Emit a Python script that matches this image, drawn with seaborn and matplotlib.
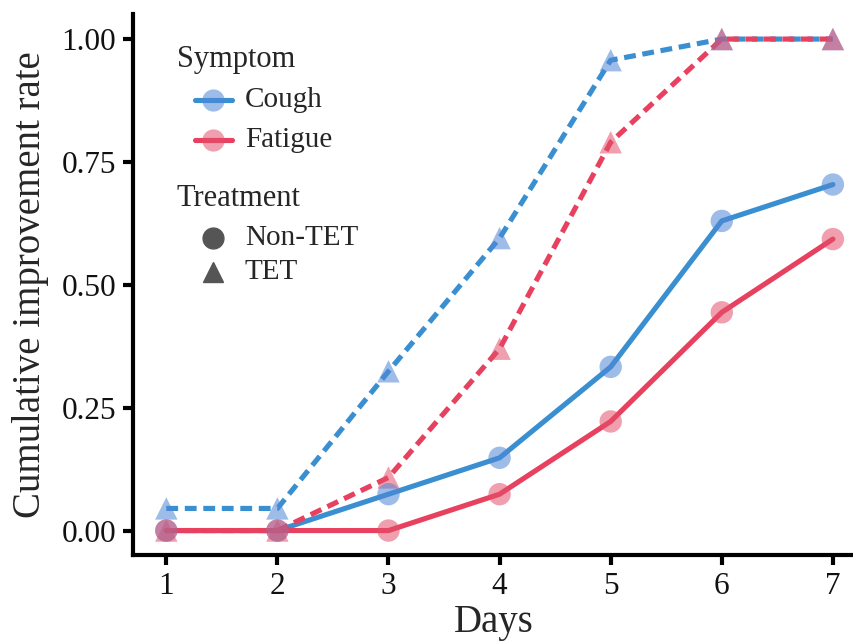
import numpy as np
import pandas as pd
import matplotlib
matplotlib.use("Agg")
import matplotlib.pyplot as plt
from matplotlib.lines import Line2D
import seaborn as sns

# values
days = [1, 2, 3, 4, 5, 6, 7]
cough_tet = [0.045, 0.045, 0.324, 0.595, 0.957, 1.0, 1.0]
fatigue_tet = [0.0, 0.0, 0.108, 0.370, 0.790, 1.0, 1.0]
cough_non = [0.0, 0.0, 0.074, 0.148, 0.333, 0.630, 0.704]
fatigue_non = [0.0, 0.0, 0.0, 0.074, 0.222, 0.444, 0.593]

symptoms = ["Cough", "Fatigue"]
treatments = ["Non-TET", "TET"]
palette = {"Cough": "#3a8fd0", "Fatigue": "#e8405f"}
marker_palette = {"Cough": "#4f86d6", "Fatigue": "#e2506a"}

rows = []
for sym, trt, vals in [("Cough", "TET", cough_tet), ("Fatigue", "TET", fatigue_tet),
                       ("Cough", "Non-TET", cough_non), ("Fatigue", "Non-TET", fatigue_non)]:
    for d, v in zip(days, vals):
        rows.append({"Days": d, "Rate": v, "Symptom": sym, "Treatment": trt})
df = pd.DataFrame(rows)

sns.set_theme(style="ticks")
plt.rcParams["font.family"] = ["Liberation Serif", "DejaVu Serif"]

W, H = 854, 644
fig = plt.figure(figsize=(W / 100, H / 100), dpi=100)
ax = fig.add_axes([0.1557, 0.138, 0.8443, 0.8395])

sns.lineplot(data=df, x="Days", y="Rate", hue="Symptom", style="Treatment",
             hue_order=symptoms, style_order=treatments, palette=palette,
             dashes={"Non-TET": "", "TET": (2.3, 1.3)}, linewidth=3.7,
             legend=False, ax=ax, zorder=2)
sns.scatterplot(data=df, x="Days", y="Rate", hue="Symptom", style="Treatment",
                hue_order=symptoms, style_order=treatments, palette=marker_palette,
                markers={"Non-TET": "o", "TET": "^"}, s=260, alpha=0.55,
                linewidth=0, legend=False, ax=ax, zorder=3)

ax.set_xlim(0.7, 7.19)
ax.set_ylim(-0.05, 1.05)
ax.set_xticks(days)
ax.set_yticks([0, 0.25, 0.5, 0.75, 1.0])
ax.set_yticklabels(["0.00", "0.25", "0.50", "0.75", "1.00"])
ax.tick_params(labelsize=22.5, width=3, length=7, color="black", labelcolor="#111111", pad=5)
for side in ["left", "bottom"]:
    ax.spines[side].set_linewidth(3)
    ax.spines[side].set_color("black")
sns.despine(ax=ax)
ax.set_xlabel("Days", fontsize=28, labelpad=2)
ax.set_ylabel("Cumulative improvement rate", fontsize=28, labelpad=9)


# legend drawn by hand (pixel positions measured on the reference)
def fx(px):
    return px / W


def fy(py):
    return 1 - py / H


fig.text(fx(177), fy(60), "Symptom", fontsize=22, va="center", ha="left")
for s, py in zip(symptoms, [100, 140]):
    fig.add_artist(Line2D([fx(195), fx(232)], [fy(py), fy(py)], color=palette[s], lw=3.7,
                          transform=fig.transFigure))
    fig.add_artist(Line2D([fx(213)], [fy(py)], lw=0, marker="o", markersize=16,
                          markerfacecolor=marker_palette[s], markeredgewidth=0, alpha=0.55,
                          transform=fig.transFigure))
    fig.text(fx(245), fy(py), s, fontsize=21, va="center", ha="left")

fig.text(fx(177), fy(199), "Treatment", fontsize=22, va="center", ha="left")
for t, m, py in zip(treatments, ["o", "^"], [238, 272]):
    fig.add_artist(Line2D([fx(213)], [fy(py)], lw=0, marker=m, markersize=15,
                          color="#555555", transform=fig.transFigure))
    fig.text(fx(245), fy(py), t, fontsize=21, va="center", ha="left")

fig.savefig("out.png", dpi=100)
